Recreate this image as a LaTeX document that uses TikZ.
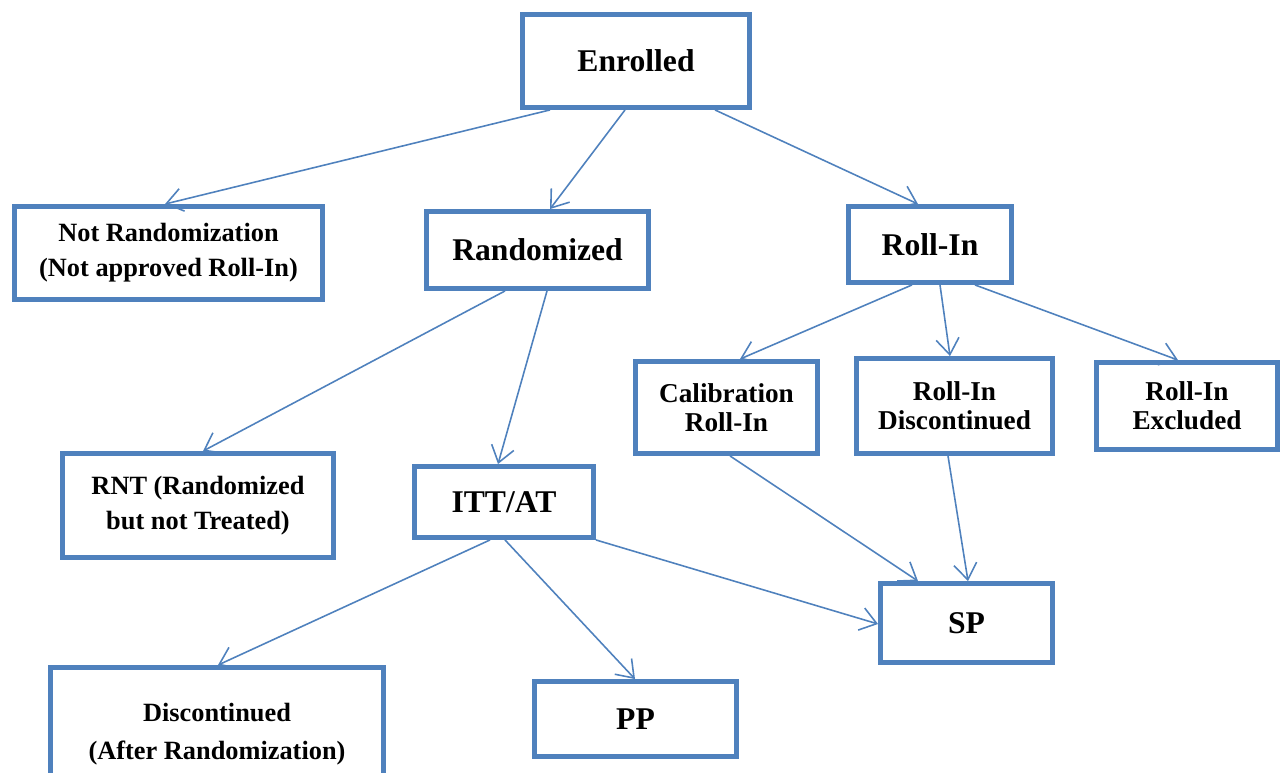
\documentclass[tikz,border=0pt]{standalone}
\usepackage{fontspec}
\setmainfont{Liberation Serif}
\usetikzlibrary{arrows.meta}
\definecolor{boxblue}{HTML}{4F81BD}
\tikzset{
  box/.style={draw=boxblue,line width=2.8pt,fill=white,inner sep=0pt,align=center,
    font=\bfseries\fontsize{15}{20}\selectfont},
  bigbox/.style={box,text depth=0pt,font=\bfseries\fontsize{18}{22}\selectfont},
  tight/.style={font=\bfseries\fontsize{15.5}{16.5}\selectfont},
  link/.style={draw=boxblue,line width=0.9pt,-{Straight Barb[length=3.2mm,width=4.6mm]}}
}
\begin{document}
\begin{tikzpicture}[x=0.02cm,y=-0.02cm]
\useasboundingbox (0,0) rectangle (1281,773);
\clip (0,0) rectangle (1281,773);
%boxes
\node[bigbox,minimum width=4.54cm,minimum height=1.86cm] (enr) at (636,61) {Enrolled};
\node[box,minimum width=6.16cm,minimum height=1.86cm] (notr) at (168.5,253) {Not Randomization\\(Not approved Roll-In)};
\node[bigbox,minimum width=4.44cm,minimum height=1.54cm] (rand) at (537.5,250) {Randomized};
\node[bigbox,minimum width=3.26cm,minimum height=1.52cm] (roll) at (930,244.5) {Roll-In};
\node[box,tight,minimum width=3.64cm,minimum height=1.84cm] (cal) at (726.5,407.5) {Calibration\\Roll-In};
\node[box,tight,minimum width=3.92cm,minimum height=1.90cm] (rdis) at (954.5,406) {Roll-In\\Discontinued};
\node[box,tight,minimum width=3.62cm,minimum height=1.74cm] (rexc) at (1187,406) {Roll-In\\Excluded};
\node[box,minimum width=5.42cm,minimum height=2.08cm] (rnt) at (198,505.5) {RNT (Randomized\\but not Treated)};
\node[bigbox,minimum width=3.58cm,minimum height=1.42cm] (itt) at (504,502) {ITT/AT};
\node[bigbox,minimum width=3.44cm,minimum height=1.58cm] (sp) at (966.5,623) {SP};
\node[box,font=\bfseries\fontsize{15}{21.5}\selectfont,minimum width=6.66cm,minimum height=2.66cm] (disc) at (217,734) {Discontinued\\(After Randomization)};
\node[bigbox,minimum width=4.04cm,minimum height=1.50cm] (pp) at (635.5,719) {PP};
%arrows
\draw[link]([shift={(-86,0)}]enr.south)--([shift={(-3.5,0)}]notr.north);
\draw[link]([shift={(-11,0)}]enr.south)--([shift={(12.5,0)}]rand.north);
\draw[link]([shift={(79,0)}]enr.south)--([shift={(-12,0)}]roll.north);
\draw[link]([shift={(-32.5,0)}]rand.south)--([shift={(5,0)}]rnt.north);
\draw[link]([shift={(9.5,0)}]rand.south)--([shift={(-6,0)}]itt.north);
\draw[link]([shift={(-18,0)}]roll.south)--([shift={(13.5,0)}]cal.north);
\draw[link]([shift={(10,0)}]roll.south)--([shift={(-4.5,0)}]rdis.north);
\draw[link]([shift={(45,0)}]roll.south)--([shift={(-9,0)}]rexc.north);
\draw[link]([shift={(3.5,0)}]cal.south)--([shift={(-48.5,0)}]sp.north);
\draw[link]([shift={(-6.5,0)}]rdis.south)--([shift={(1.5,0)}]sp.north);
\draw[link]([shift={(-14,0)}]itt.south)--([shift={(1,0)}]disc.north);
\draw[link]([shift={(1,0)}]itt.south)--([shift={(-0.5,0)}]pp.north);
\draw[link](itt.south east)--([shift={(0,1)}]sp.west);
\end{tikzpicture}
\end{document}
